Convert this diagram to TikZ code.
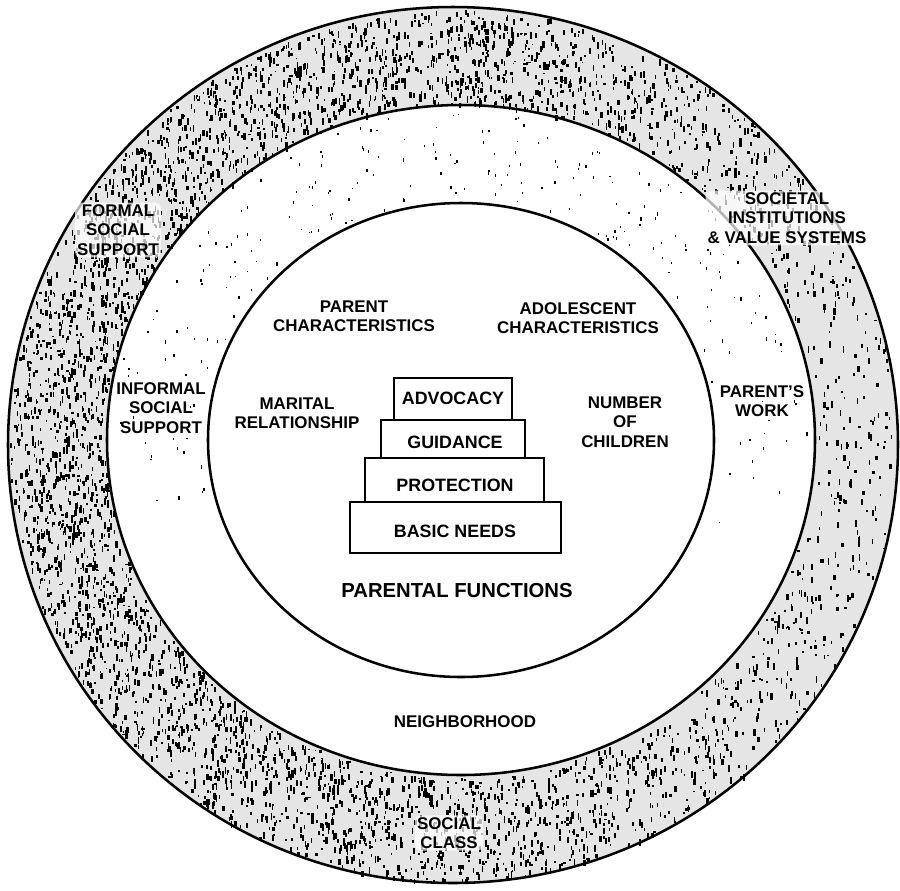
\documentclass[tikz,border=0pt]{standalone}
\usepackage{fontspec}
\setmainfont{Liberation Sans}
\tikzset{
  lab/.style={font=\bfseries\fontsize{12.7}{14.6}\selectfont, align=center, inner sep=0pt},
  boxlab/.style={font=\bfseries\fontsize{13.4}{16}\selectfont, inner sep=0pt},
  biglab/.style={font=\bfseries\fontsize{15.2}{18}\selectfont, inner sep=0pt},
  tier/.style={draw, line width=1.3pt, fill=white},
  ring/.style={draw, line width=1.9pt},
  halo/.style={fill=white, fill opacity=0.7, text opacity=1, inner sep=1.5pt, rounded corners=4pt},
}
\begin{document}
\begin{tikzpicture}[x=0.75pt, y=-0.75pt]
\useasboundingbox (0,0) rectangle (900,890);
\fill[white] (0,0) rectangle (900,890);
% outer ring base tone
\fill[black!10, even odd rule] (453,445) ellipse [x radius=445, y radius=438]
  (461,440) ellipse [x radius=354, y radius=335];
% stipple in outer ring
\pgfmathsetseed{7}
\foreach \i in {1,...,6000}{
  \pgfmathsetmacro{\th}{rnd*360}
  \pgfmathsetmacro{\tt}{0.02+0.96*rnd}
  \pgfmathtruncatemacro{\keep}{rnd < (1-0.8*max(0,cos(\th))) ? 1 : 0}
  \ifnum\keep=1
    \pgfmathsetmacro{\px}{(1-\tt)*(461+354*cos(\th)) + \tt*(453+445*cos(\th))}
    \pgfmathsetmacro{\py}{(1-\tt)*(440+335*sin(\th)) + \tt*(445+438*sin(\th))}
    \pgfmathsetmacro{\hh}{1.5+5.5*rnd}
    \pgfmathsetmacro{\ww}{1+1.8*rnd}
    \fill[black] (\px,\py) rectangle ++(\ww,\hh);
  \fi
}
% sparse specks in middle ring
\foreach \i in {1,...,600}{
  \pgfmathsetmacro{\th}{rnd*360}
  \pgfmathsetmacro{\tt}{0.05+0.9*rnd}
  \pgfmathtruncatemacro{\keep}{rnd < (0.3-0.7*sin(\th)) ? 1 : 0}
  \ifnum\keep=1
    \pgfmathsetmacro{\px}{(1-\tt)*(461+253*cos(\th)) + \tt*(461+354*cos(\th))}
    \pgfmathsetmacro{\py}{(1-\tt)*(440+237*sin(\th)) + \tt*(440+335*sin(\th))}
    \pgfmathsetmacro{\hh}{1+2.5*rnd}
    \fill[black] (\px,\py) rectangle ++(1.3,\hh);
  \fi
}
% circles
\path[ring] (453,445) ellipse [x radius=445, y radius=438];
\path[ring] (461,440) ellipse [x radius=354, y radius=335];
\path[ring, fill=white] (461,440) ellipse [x radius=253, y radius=237];

% pyramid of parental functions
\draw[tier] (350,502) rectangle (561,553);
\draw[tier] (365,458) rectangle (544,502);
\draw[tier] (381,420) rectangle (525,458);
\draw[tier] (394,378) rectangle (512,420);
\node[boxlab] (adv) at (453,398) {ADVOCACY};
\node[boxlab] (gui) at (455,442) {GUIDANCE};
\node[boxlab] (pro) at (455,485) {PROTECTION};
\node[boxlab] (bas) at (455,531) {BASIC NEEDS};
\node[biglab] (pf) at (457,591) {PARENTAL FUNCTIONS};

% inner circle labels
\node[lab] (pc) at (354,316) {PARENT\\CHARACTERISTICS};
\node[lab] (ac) at (578,318) {ADOLESCENT\\CHARACTERISTICS};
\node[lab] (mr) at (297,413) {MARITAL\\RELATIONSHIP};
\node[lab] (nc) at (625,422) {NUMBER\\OF\\CHILDREN};

% middle ring labels
\node[lab] (iss) at (161,408) {INFORMAL\\SOCIAL\\SUPPORT};
\node[lab] (pw) at (762,401) {PARENT'S\\WORK};
\node[lab] (nb) at (465,722) {NEIGHBORHOOD};

% outer ring labels
\node[lab, halo] (fss) at (118,230) {FORMAL\\SOCIAL\\SUPPORT};
\node[lab, halo] (siv) at (787,218) {SOCIETAL\\INSTITUTIONS\\\& VALUE SYSTEMS};
\node[lab, halo] (sc) at (449,833) {SOCIAL\\CLASS};
\end{tikzpicture}
\end{document}
